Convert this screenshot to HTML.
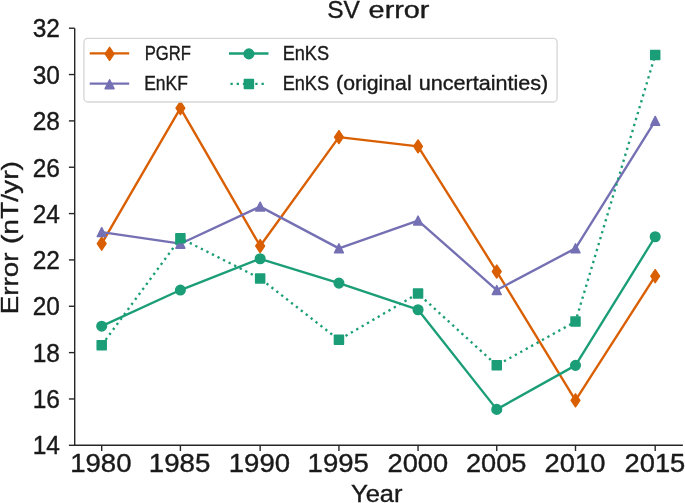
<!DOCTYPE html><html><head><meta charset="utf-8"><style>html,body{margin:0;padding:0;background:#fff;}svg{display:block;filter:blur(0.5px);}text{font-family:"Liberation Sans",sans-serif;fill:#1a1a1a;stroke:#1a1a1a;stroke-width:0.38px;}</style></head><body>
<svg width="685" height="503" viewBox="0 0 685 503">
<rect width="685" height="503" fill="#fff"/>
<g stroke="#262626" stroke-width="1.4" fill="none">
<path d="M74.7,28.20V445.30M74,445.30H682.9"/>
<path d="M68.9,445.30H74.7"/>
<path d="M68.9,398.96H74.7"/>
<path d="M68.9,352.61H74.7"/>
<path d="M68.9,306.27H74.7"/>
<path d="M68.9,259.92H74.7"/>
<path d="M68.9,213.58H74.7"/>
<path d="M68.9,167.23H74.7"/>
<path d="M68.9,120.89H74.7"/>
<path d="M68.9,74.54H74.7"/>
<path d="M68.9,28.20H74.7"/>
<path d="M101.70,445.30V451"/>
<path d="M180.40,445.30V451"/>
<path d="M260.15,445.30V451"/>
<path d="M338.93,445.30V451"/>
<path d="M418.05,445.30V451"/>
<path d="M496.75,445.30V451"/>
<path d="M575.50,445.30V451"/>
<path d="M655.20,445.30V451"/>
</g>
<text x="59.90" y="454.00" font-size="25" textLength="27.20" lengthAdjust="spacingAndGlyphs" text-anchor="end">14</text>
<text x="59.90" y="408.00" font-size="25" textLength="27.20" lengthAdjust="spacingAndGlyphs" text-anchor="end">16</text>
<text x="59.90" y="362.00" font-size="25" textLength="27.20" lengthAdjust="spacingAndGlyphs" text-anchor="end">18</text>
<text x="59.90" y="315.00" font-size="25" textLength="27.20" lengthAdjust="spacingAndGlyphs" text-anchor="end">20</text>
<text x="59.90" y="269.00" font-size="25" textLength="27.20" lengthAdjust="spacingAndGlyphs" text-anchor="end">22</text>
<text x="59.90" y="223.00" font-size="25" textLength="27.20" lengthAdjust="spacingAndGlyphs" text-anchor="end">24</text>
<text x="59.90" y="177.00" font-size="25" textLength="27.20" lengthAdjust="spacingAndGlyphs" text-anchor="end">26</text>
<text x="59.90" y="130.00" font-size="25" textLength="27.20" lengthAdjust="spacingAndGlyphs" text-anchor="end">28</text>
<text x="59.90" y="84.00" font-size="25" textLength="27.20" lengthAdjust="spacingAndGlyphs" text-anchor="end">30</text>
<text x="59.90" y="37.00" font-size="25" textLength="27.20" lengthAdjust="spacingAndGlyphs" text-anchor="end">32</text>
<text x="70.23" y="472.00" font-size="25" textLength="61.27" lengthAdjust="spacingAndGlyphs">1980</text>
<text x="148.74" y="472.00" font-size="25" textLength="61.59" lengthAdjust="spacingAndGlyphs">1985</text>
<text x="228.81" y="472.00" font-size="25" textLength="61.26" lengthAdjust="spacingAndGlyphs">1990</text>
<text x="307.64" y="472.00" font-size="25" textLength="61.29" lengthAdjust="spacingAndGlyphs">1995</text>
<text x="387.53" y="472.00" font-size="25" textLength="60.60" lengthAdjust="spacingAndGlyphs">2000</text>
<text x="466.00" y="472.00" font-size="25" textLength="60.49" lengthAdjust="spacingAndGlyphs">2005</text>
<text x="544.62" y="472.00" font-size="25" textLength="60.84" lengthAdjust="spacingAndGlyphs">2010</text>
<text x="624.55" y="472.00" font-size="25" textLength="60.72" lengthAdjust="spacingAndGlyphs">2015</text>
<text x="351.00" y="502.00" font-size="24.3" textLength="51.46" lengthAdjust="spacingAndGlyphs">Year</text>
<text x="327.22" y="18.00" font-size="24.3" textLength="32.63" lengthAdjust="spacingAndGlyphs">SV</text>
<text x="368.60" y="18.00" font-size="24.3" textLength="60.89" lengthAdjust="spacingAndGlyphs">error</text>
<text x="-76.76" y="-0.60" font-size="24.3" textLength="61.76" lengthAdjust="spacingAndGlyphs" transform="translate(18.70,237.50) rotate(-90)">Error</text>
<text x="-6.60" y="-0.60" font-size="24.3" textLength="83.02" lengthAdjust="spacingAndGlyphs" transform="translate(18.70,237.50) rotate(-90)">(nT/yr)</text>
<polyline points="101.70,243.70 180.40,108.14 260.15,246.02 338.93,137.11 418.05,146.38 496.75,271.51 575.50,400.35 655.20,276.14" fill="none" stroke="#d95f02" stroke-width="2.36" stroke-linejoin="round"/>
<path d="M101.70,237.25L106.05,243.70L101.70,250.15L97.35,243.70Z" fill="#d95f02" stroke="#d95f02" stroke-width="1.5" stroke-linejoin="round"/>
<path d="M180.40,101.69L184.75,108.14L180.40,114.59L176.05,108.14Z" fill="#d95f02" stroke="#d95f02" stroke-width="1.5" stroke-linejoin="round"/>
<path d="M260.15,239.57L264.50,246.02L260.15,252.47L255.80,246.02Z" fill="#d95f02" stroke="#d95f02" stroke-width="1.5" stroke-linejoin="round"/>
<path d="M338.93,130.66L343.28,137.11L338.93,143.56L334.58,137.11Z" fill="#d95f02" stroke="#d95f02" stroke-width="1.5" stroke-linejoin="round"/>
<path d="M418.05,139.93L422.40,146.38L418.05,152.83L413.70,146.38Z" fill="#d95f02" stroke="#d95f02" stroke-width="1.5" stroke-linejoin="round"/>
<path d="M496.75,265.06L501.10,271.51L496.75,277.96L492.40,271.51Z" fill="#d95f02" stroke="#d95f02" stroke-width="1.5" stroke-linejoin="round"/>
<path d="M575.50,393.90L579.85,400.35L575.50,406.80L571.15,400.35Z" fill="#d95f02" stroke="#d95f02" stroke-width="1.5" stroke-linejoin="round"/>
<path d="M655.20,269.69L659.55,276.14L655.20,282.59L650.85,276.14Z" fill="#d95f02" stroke="#d95f02" stroke-width="1.5" stroke-linejoin="round"/>
<polyline points="101.70,232.12 180.40,243.70 260.15,206.63 338.93,248.34 418.05,220.53 496.75,290.05 575.50,248.34 655.20,120.89" fill="none" stroke="#7570b3" stroke-width="2.36" stroke-linejoin="round"/>
<path d="M101.70,227.67L106.15,236.57L97.25,236.57Z" fill="#7570b3" stroke="#7570b3" stroke-width="1.5" stroke-linejoin="round"/>
<path d="M180.40,239.25L184.85,248.15L175.95,248.15Z" fill="#7570b3" stroke="#7570b3" stroke-width="1.5" stroke-linejoin="round"/>
<path d="M260.15,202.18L264.60,211.08L255.70,211.08Z" fill="#7570b3" stroke="#7570b3" stroke-width="1.5" stroke-linejoin="round"/>
<path d="M338.93,243.89L343.38,252.79L334.48,252.79Z" fill="#7570b3" stroke="#7570b3" stroke-width="1.5" stroke-linejoin="round"/>
<path d="M418.05,216.08L422.50,224.98L413.60,224.98Z" fill="#7570b3" stroke="#7570b3" stroke-width="1.5" stroke-linejoin="round"/>
<path d="M496.75,285.60L501.20,294.50L492.30,294.50Z" fill="#7570b3" stroke="#7570b3" stroke-width="1.5" stroke-linejoin="round"/>
<path d="M575.50,243.89L579.95,252.79L571.05,252.79Z" fill="#7570b3" stroke="#7570b3" stroke-width="1.5" stroke-linejoin="round"/>
<path d="M655.20,116.44L659.65,125.34L650.75,125.34Z" fill="#7570b3" stroke="#7570b3" stroke-width="1.5" stroke-linejoin="round"/>
<polyline points="101.70,326.19 180.40,290.05 260.15,258.76 338.93,283.09 418.05,309.74 496.75,409.38 575.50,365.36 655.20,236.75" fill="none" stroke="#1b9e77" stroke-width="2.36" stroke-linejoin="round"/>
<circle cx="101.70" cy="326.19" r="4.80" fill="#1b9e77" stroke="#1b9e77" stroke-width="1.5"/>
<circle cx="180.40" cy="290.05" r="4.80" fill="#1b9e77" stroke="#1b9e77" stroke-width="1.5"/>
<circle cx="260.15" cy="258.76" r="4.80" fill="#1b9e77" stroke="#1b9e77" stroke-width="1.5"/>
<circle cx="338.93" cy="283.09" r="4.80" fill="#1b9e77" stroke="#1b9e77" stroke-width="1.5"/>
<circle cx="418.05" cy="309.74" r="4.80" fill="#1b9e77" stroke="#1b9e77" stroke-width="1.5"/>
<circle cx="496.75" cy="409.38" r="4.80" fill="#1b9e77" stroke="#1b9e77" stroke-width="1.5"/>
<circle cx="575.50" cy="365.36" r="4.80" fill="#1b9e77" stroke="#1b9e77" stroke-width="1.5"/>
<circle cx="655.20" cy="236.75" r="4.80" fill="#1b9e77" stroke="#1b9e77" stroke-width="1.5"/>
<polyline points="101.70,345.20 180.40,238.14 260.15,278.46 338.93,339.87 418.05,293.52 496.75,365.36 575.50,321.56 655.20,55.08" fill="none" stroke="#1b9e77" stroke-width="2.36" stroke-dasharray="2.3 3.914" stroke-dashoffset="5.76"/>
<path d="M97.20,340.70h9.0v9.0h-9.0Z" fill="#1b9e77" stroke="#1b9e77" stroke-width="1.5" stroke-linejoin="round"/>
<path d="M175.90,233.64h9.0v9.0h-9.0Z" fill="#1b9e77" stroke="#1b9e77" stroke-width="1.5" stroke-linejoin="round"/>
<path d="M255.65,273.96h9.0v9.0h-9.0Z" fill="#1b9e77" stroke="#1b9e77" stroke-width="1.5" stroke-linejoin="round"/>
<path d="M334.43,335.37h9.0v9.0h-9.0Z" fill="#1b9e77" stroke="#1b9e77" stroke-width="1.5" stroke-linejoin="round"/>
<path d="M413.55,289.02h9.0v9.0h-9.0Z" fill="#1b9e77" stroke="#1b9e77" stroke-width="1.5" stroke-linejoin="round"/>
<path d="M492.25,360.86h9.0v9.0h-9.0Z" fill="#1b9e77" stroke="#1b9e77" stroke-width="1.5" stroke-linejoin="round"/>
<path d="M571.00,317.06h9.0v9.0h-9.0Z" fill="#1b9e77" stroke="#1b9e77" stroke-width="1.5" stroke-linejoin="round"/>
<path d="M650.70,50.58h9.0v9.0h-9.0Z" fill="#1b9e77" stroke="#1b9e77" stroke-width="1.5" stroke-linejoin="round"/>
<rect x="83.9" y="38.35" width="473.2" height="63.65" rx="4" fill="#fff" fill-opacity="0.8" stroke="#d6d6d6" stroke-width="1.3"/>
<path d="M89.7,53.4H129.2" stroke="#d95f02" stroke-width="2.36"/>
<path d="M109.60,47.40L113.95,53.85L109.60,60.30L105.25,53.85Z" fill="#d95f02" stroke="#d95f02" stroke-width="1.5" stroke-linejoin="round"/>
<path d="M89.7,83.6H129.2" stroke="#7570b3" stroke-width="2.36"/>
<path d="M109.60,79.75L114.05,88.65L105.15,88.65Z" fill="#7570b3" stroke="#7570b3" stroke-width="1.5" stroke-linejoin="round"/>
<path d="M229,53.45H268.5" stroke="#1b9e77" stroke-width="2.36"/>
<circle cx="248.90" cy="53.90" r="4.80" fill="#1b9e77" stroke="#1b9e77" stroke-width="1.5"/>
<path d="M230.45,83.85H267.6" stroke="#1b9e77" stroke-width="2.36" stroke-dasharray="2.3 3.914"/>
<path d="M244.40,79.50h9.0v9.0h-9.0Z" fill="#1b9e77" stroke="#1b9e77" stroke-width="1.5" stroke-linejoin="round"/>
<text x="144.67" y="60.00" font-size="20.4" textLength="46.18" lengthAdjust="spacingAndGlyphs">PGRF</text>
<text x="144.23" y="90.00" font-size="20.4" textLength="43.66" lengthAdjust="spacingAndGlyphs">EnKF</text>
<text x="282.63" y="60.00" font-size="20.4" textLength="46.43" lengthAdjust="spacingAndGlyphs">EnKS</text>
<text x="282.63" y="90.00" font-size="20.4" textLength="46.43" lengthAdjust="spacingAndGlyphs">EnKS</text>
<text x="336.11" y="90.00" font-size="20.4" textLength="75.51" lengthAdjust="spacingAndGlyphs">(original</text>
<text x="418.70" y="90.00" font-size="20.4" textLength="129.62" lengthAdjust="spacingAndGlyphs">uncertainties)</text>
</svg></body></html>
